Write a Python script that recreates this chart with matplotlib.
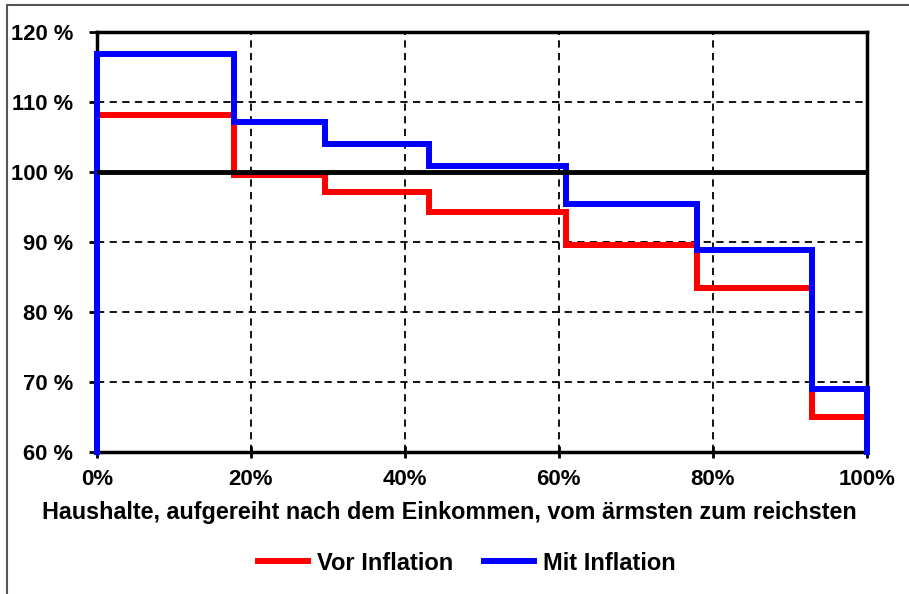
import numpy as np
import matplotlib
matplotlib.use("Agg")
from matplotlib import pyplot as plt
from matplotlib.patches import Rectangle

plt.rcParams['font.family'] = ['Liberation Sans', 'DejaVu Sans']
plt.rcParams['font.weight'] = 'bold'

# Grenzen der Haushaltsgruppen (in %) und Werte der Stufen (in %)
grenzen = [0, 17.8, 29.6, 43.2, 60.9, 77.9, 92.9, 100]
vor_inflation = [108.1, 99.6, 97.1, 94.2, 89.6, 83.4, 65.0]
mit_inflation = [116.8, 107.2, 104.0, 100.8, 95.4, 88.8, 68.9]

x_ticks = [0, 20, 40, 60, 80, 100]
x_labels = ['0%', '20%', '40%', '60%', '80%', '100%']
y_ticks = [60, 70, 80, 90, 100, 110, 120]
y_labels = ['60 %', '70 %', '80 %', '90 %', '100 %', '110 %', '120 %']
basis = 60


def treppe(werte):
    xs = np.repeat(grenzen, 2)
    ys = np.concatenate([[basis], np.repeat(werte, 2), [basis]])
    return xs, ys


fig = plt.figure(figsize=(9.09, 5.94), dpi=100)
# Rahmen um die Grafik
fig.patches.append(Rectangle((7 / 909, -0.1), 1.2, 1 - 5 / 594 + 0.1,
                             transform=fig.transFigure, fill=False,
                             edgecolor='#555555', linewidth=1.5))

ax = fig.add_axes([0.1066, 0.2396, 0.8469, 0.7065])

ax.grid(True, color='black', linestyle=(0, (4, 3)), linewidth=1.3)
ax.set_axisbelow(True)
ax.axhline(100, color='black', linewidth=3.5, zorder=6)

xs, ys = treppe(vor_inflation)
ax.plot(xs, ys, color='#ff0000', linewidth=4.3, label='Vor Inflation',
        clip_on=False, zorder=3, solid_joinstyle='miter')
xs, ys = treppe(mit_inflation)
ax.plot(xs, ys, color='#0000ff', linewidth=4.3, label='Mit Inflation',
        clip_on=False, zorder=4, solid_joinstyle='miter')

ax.set_xlim(0, 100)
ax.set_ylim(60, 120)
ax.set_xticks(x_ticks)
ax.set_xticklabels(x_labels, fontsize=16, fontweight='bold')
ax.set_yticks(y_ticks)
ax.set_yticklabels(y_labels, fontsize=15.8, fontweight='bold')
ax.tick_params(axis='y', direction='out', length=6, width=2, pad=11)
ax.tick_params(axis='x', direction='inout', length=9, width=2, pad=8)
for s in ax.spines.values():
    s.set_linewidth(2.5)
    s.set_zorder(2.5)

ax.set_xlabel('Haushalte, aufgereiht nach dem Einkommen, vom ärmsten zum reichsten',
              fontsize=16.8, fontweight='bold', labelpad=8, x=0.458)

fig.legend(loc='center', bbox_to_anchor=(0.514, 0.052), ncol=2, frameon=False,
           prop={'size': 17, 'weight': 'bold'}, handlelength=2.1,
           columnspacing=1.3, handletextpad=0.4)

fig.savefig('out.png', dpi=100)
